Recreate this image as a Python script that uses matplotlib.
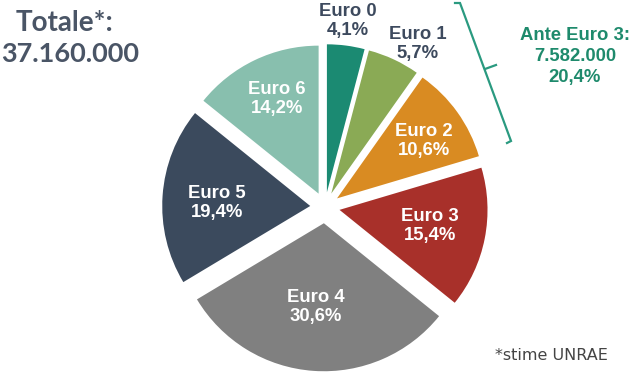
import matplotlib
matplotlib.use("Agg")
import matplotlib.pyplot as plt
import numpy as np

categories = ["Euro 0", "Euro 1", "Euro 2", "Euro 3", "Euro 4", "Euro 5", "Euro 6"]
shares = [4.1, 5.7, 10.6, 15.4, 30.6, 19.4, 14.2]
pct_labels = ["4,1%", "5,7%", "10,6%", "15,4%", "30,6%", "19,4%", "14,2%"]
colors = ["#1b8a72", "#8aaa55", "#d98b22", "#a8302a", "#808080", "#3b4a5d", "#88bfae"]
total_title = "Totale*:"
total_value = "37.160.000"
ante_lines = ["Ante Euro 3:", "7.582.000", "20,4%"]
footnote = "*stime UNRAE"

W, H = 639, 381
fig = plt.figure(figsize=(W / 100, H / 100), dpi=100)
ax = fig.add_axes([0, 0, 1, 1])

# pixel geometry
cx, cy, R = 325, 207, 148

explode = [0.1, 0.1, 0.1, 0.1, 0.11, 0.1, 0.1]
wedges, _ = ax.pie(shares, colors=colors, startangle=90, counterclock=False,
                   explode=explode, radius=1.0, center=(0, 0),
                   wedgeprops=dict(linewidth=0))
ax.set_xlim(-cx / R, (W - cx) / R)
ax.set_ylim(-(H - cy) / R, cy / R)
ax.set_aspect("equal")
ax.axis("off")

def px(x, y):
    return ((x - cx) / R, (cy - y) / R)

# label positions (pixels) and colors
label_pos = [(348, 21), (418, 44), (424, 141), (430, 226), (316, 307), (217, 203), (277, 99)]
label_col = ["#3d4a5e", "#3d4a5e", "white", "white", "white", "white", "white"]
font = ["Liberation Sans", "DejaVu Sans"]
for cat, pct, (x, y), c in zip(categories, pct_labels, label_pos, label_col):
    X, Y = px(x, y)
    ax.text(X, Y, f"{cat}\n{pct}", ha="center", va="center", color=c,
            fontsize=13.3, fontweight="bold", family=font, linespacing=1.2)

# Totale
X, Y = px(64, 23)
ax.text(X, Y, total_title, ha="center", va="center", color="#4a5566",
        fontsize=20, fontweight="bold", family=["Lato", "DejaVu Sans"])
X, Y = px(70, 54)
ax.text(X, Y, total_value, ha="center", va="center", color="#4a5566",
        fontsize=19.5, fontweight="bold", family=["Lato", "DejaVu Sans"])

# Ante Euro 3 text
for i, line in enumerate(ante_lines):
    X, Y = px(575, 35 + i * 21)
    ax.text(X, Y, line, ha="center", va="center", color="#1e8a6c",
            fontsize=13.3, fontweight="bold", family=font)

# bracket
bx = [455, 460, 511, 507]
by = [3, 3, 141, 143]
pts = [px(a, b) for a, b in zip(bx, by)]
ax.plot([p[0] for p in pts], [p[1] for p in pts], color="#2a9a80", lw=1.6,
        solid_joinstyle="miter")
m1, m2 = px(485, 69), px(496, 65)
ax.plot([m1[0], m2[0]], [m1[1], m2[1]], color="#2a9a80", lw=1.6)

# footnote
X, Y = px(551, 356)
ax.text(X, Y, footnote, ha="center", va="center", color="#444444",
        fontsize=11.5, family=["DejaVu Sans"])

fig.savefig("out.png", dpi=100)
